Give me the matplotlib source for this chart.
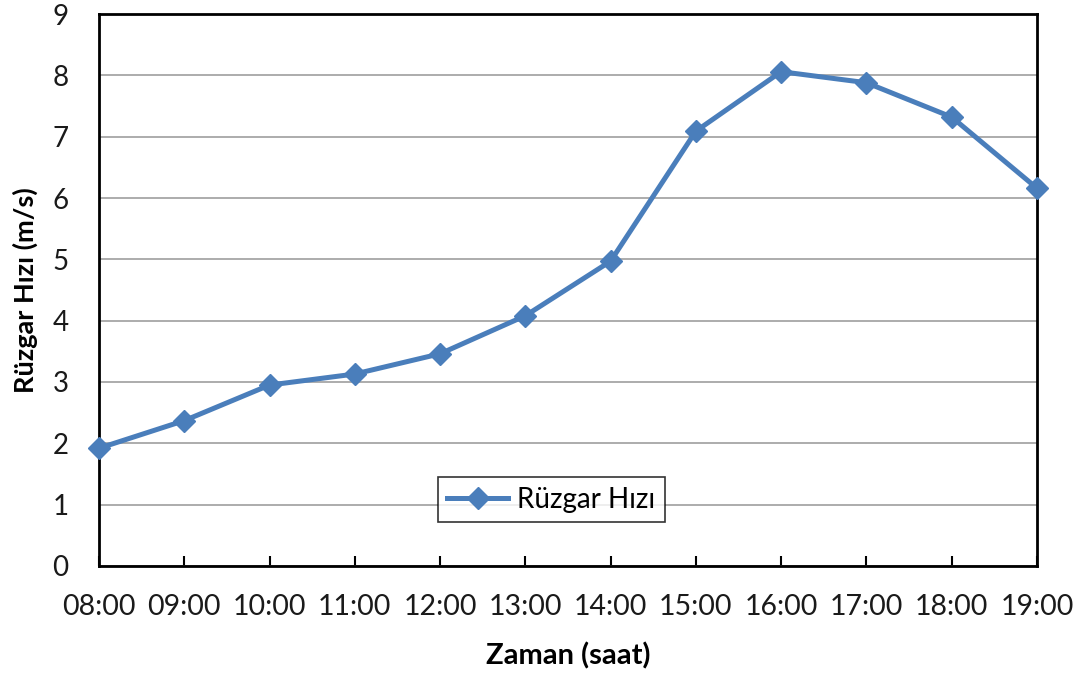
import matplotlib.pyplot as plt

plt.rcParams['font.family'] = ['Lato', 'DejaVu Sans']

# saatlik rüzgar hızı ölçümleri
saatler = ['08:00', '09:00', '10:00', '11:00', '12:00', '13:00',
           '14:00', '15:00', '16:00', '17:00', '18:00', '19:00']
ruzgar_hizi = [1.92, 2.37, 2.95, 3.13, 3.46, 4.08,
               4.97, 7.09, 8.06, 7.88, 7.32, 6.16]

renk = '#4A7EBB'

fig = plt.figure(figsize=(10.89, 6.81), dpi=100)
ax = fig.add_axes([0.0909, 0.1689, 0.8613, 0.8105])

x = range(len(saatler))
ax.plot(x, ruzgar_hizi, color=renk, lw=3.6, marker='D', markersize=11,
        markeredgecolor=renk, clip_on=False, zorder=3, label='Rüzgar Hızı')

ax.set_xlim(0, len(saatler) - 1)
ax.set_ylim(0, 9)
ax.set_yticks(range(0, 10))
ax.set_xticks(list(x))
ax.set_xticklabels(saatler)

ax.grid(axis='y', color='#a6a6a6', lw=1.3)
ax.set_axisbelow(True)
for s in ax.spines.values():
    s.set_color('black')
    s.set_linewidth(2)

ax.tick_params(axis='y', length=0, pad=22, labelsize=20, colors='#1a1a1a')
ax.tick_params(axis='x', direction='in', length=7, width=1.5, pad=20,
               labelsize=20.5, colors='black', labelcolor='#1a1a1a')

ax.set_ylabel('Rüzgar Hızı (m/s)', fontsize=19.5, fontweight='bold', labelpad=10)
ax.set_xlabel('Zaman (saat)', fontsize=21, fontweight='bold', labelpad=16)

leg = ax.legend(loc='center', bbox_to_anchor=(0.482, 0.12), fontsize=20,
                frameon=True, fancybox=False, handlelength=2.2,
                borderpad=0.35, handletextpad=0.3)
leg.get_frame().set_edgecolor('black')
leg.get_frame().set_linewidth(1.2)

fig.savefig('out.png', dpi=100)
